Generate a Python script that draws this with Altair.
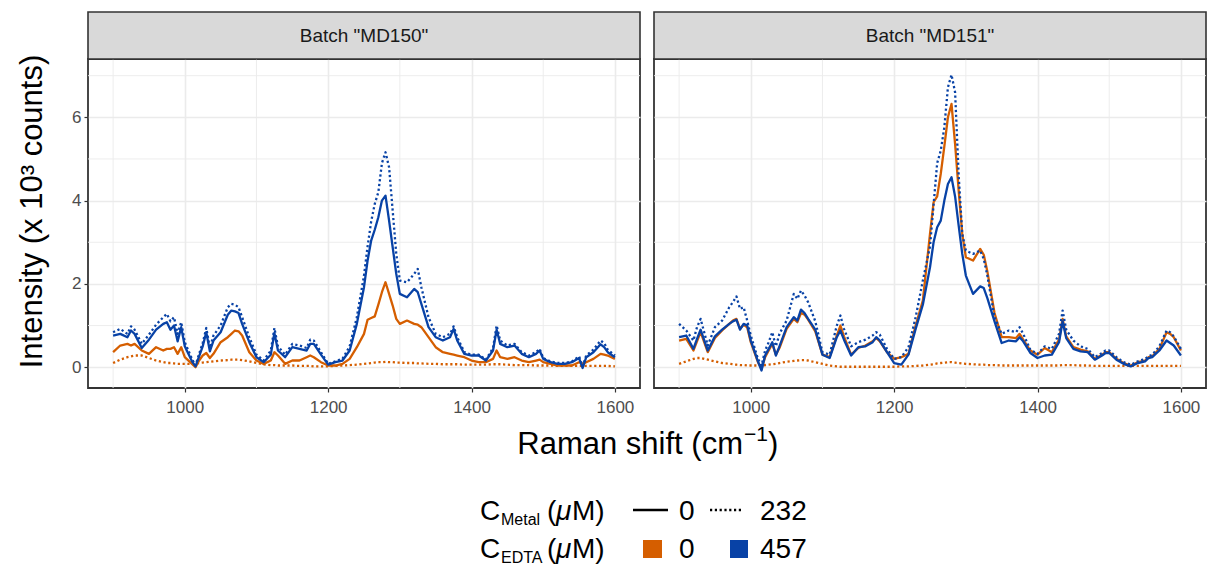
import altair as alt
import pandas as pd

# ---------------- data ----------------
shift = [900, 910, 920, 925, 930, 940, 950, 960, 970, 975,
         980, 985, 990, 995, 1000, 1010, 1015, 1020, 1025, 1030,
         1035, 1040, 1050, 1060, 1065, 1070, 1075, 1080, 1090, 1100,
         1110, 1120, 1125, 1130, 1140, 1150, 1160, 1170, 1175, 1180,
         1190, 1200, 1210, 1220, 1230, 1240, 1250, 1255, 1260, 1265,
         1270, 1275, 1280, 1285, 1290, 1295, 1300, 1310, 1320, 1325,
         1330, 1340, 1350, 1360, 1370, 1375, 1380, 1390, 1400, 1410,
         1420, 1430, 1435, 1440, 1450, 1460, 1470, 1480, 1490, 1495,
         1500, 1510, 1520, 1530, 1540, 1550, 1555, 1560, 1570, 1580,
         1585, 1590, 1600]

# Batch MD150
md150_edta0_metal0 = [
    0.36, 0.52, 0.56, 0.52, 0.56, 0.40, 0.32, 0.48, 0.40, 0.44,
    0.44, 0.48, 0.32, 0.48, 0.24, 0.08, 0.00, 0.16, 0.28, 0.34,
    0.22, 0.32, 0.60, 0.72, 0.80, 0.88, 0.86, 0.76, 0.36, 0.16,
    0.08, 0.16, 0.36, 0.28, 0.08, 0.16, 0.16, 0.24, 0.28, 0.24,
    0.12, 0.04, 0.04, 0.08, 0.20, 0.48, 0.80, 1.14, 1.18, 1.22,
    1.50, 1.80, 2.04, 1.76, 1.48, 1.16, 1.04, 1.12, 1.04, 1.02,
    0.96, 0.72, 0.48, 0.36, 0.32, 0.30, 0.28, 0.24, 0.16, 0.12,
    0.12, 0.20, 0.40, 0.24, 0.20, 0.24, 0.16, 0.12, 0.16, 0.18,
    0.12, 0.08, 0.04, 0.04, 0.04, 0.12, 0.08, 0.12, 0.20, 0.32,
    0.30, 0.28, 0.20]
md150_edta0_metal232 = [
    0.10, 0.18, 0.24, 0.26, 0.28, 0.28, 0.22, 0.16, 0.12, 0.10,
    0.10, 0.09, 0.08, 0.08, 0.08, 0.08, 0.09, 0.10, 0.11, 0.12,
    0.13, 0.14, 0.16, 0.17, 0.18, 0.18, 0.18, 0.17, 0.14, 0.10,
    0.07, 0.05, 0.05, 0.04, 0.04, 0.04, 0.03, 0.03, 0.03, 0.02,
    0.02, 0.02, 0.03, 0.04, 0.05, 0.06, 0.08, 0.09, 0.10, 0.11,
    0.12, 0.12, 0.13, 0.12, 0.12, 0.11, 0.11, 0.10, 0.10, 0.09,
    0.09, 0.08, 0.08, 0.07, 0.07, 0.07, 0.07, 0.06, 0.06, 0.06,
    0.06, 0.07, 0.07, 0.07, 0.06, 0.05, 0.05, 0.05, 0.04, 0.04,
    0.04, 0.04, 0.03, 0.03, 0.03, 0.03, 0.03, 0.03, 0.03, 0.03,
    0.03, 0.03, 0.02]
md150_edta457_metal0 = [
    0.76, 0.80, 0.72, 0.88, 0.80, 0.46, 0.66, 0.90, 1.04, 1.08,
    0.90, 1.00, 0.62, 0.96, 0.50, 0.14, 0.02, 0.26, 0.50, 0.84,
    0.38, 0.64, 0.84, 1.26, 1.36, 1.34, 1.30, 1.04, 0.60, 0.24,
    0.12, 0.30, 0.82, 0.40, 0.24, 0.48, 0.44, 0.40, 0.56, 0.56,
    0.30, 0.06, 0.12, 0.16, 0.40, 1.04, 1.92, 2.56, 3.04, 3.30,
    3.60, 4.00, 4.12, 3.52, 2.88, 2.24, 1.76, 1.68, 1.88, 1.80,
    1.52, 0.96, 0.72, 0.64, 0.72, 0.92, 0.64, 0.32, 0.28, 0.28,
    0.16, 0.40, 0.90, 0.56, 0.48, 0.52, 0.32, 0.24, 0.32, 0.40,
    0.20, 0.12, 0.08, 0.08, 0.12, 0.22, -0.02, 0.24, 0.36, 0.55,
    0.48, 0.36, 0.24]
md150_edta457_metal232 = [
    0.84, 0.92, 0.80, 0.98, 0.90, 0.56, 0.78, 1.02, 1.20, 1.28,
    1.10, 1.20, 0.80, 1.08, 0.60, 0.20, 0.04, 0.32, 0.58, 0.94,
    0.46, 0.76, 1.00, 1.44, 1.52, 1.50, 1.44, 1.20, 0.72, 0.30,
    0.16, 0.40, 0.94, 0.50, 0.30, 0.56, 0.52, 0.46, 0.66, 0.64,
    0.36, 0.08, 0.14, 0.20, 0.50, 1.20, 2.20, 2.90, 3.50, 3.92,
    4.20, 4.90, 5.16, 4.80, 3.76, 2.72, 2.08, 2.04, 2.24, 2.36,
    1.92, 1.20, 0.80, 0.72, 0.80, 0.98, 0.72, 0.36, 0.30, 0.30,
    0.18, 0.46, 1.00, 0.64, 0.52, 0.56, 0.36, 0.28, 0.36, 0.44,
    0.22, 0.14, 0.10, 0.10, 0.14, 0.26, 0.02, 0.28, 0.42, 0.64,
    0.58, 0.42, 0.28]

# Batch MD151
md151_edta0_metal0 = [
    0.64, 0.68, 0.40, 0.62, 0.84, 0.36, 0.70, 0.88, 1.04, 1.12,
    1.16, 0.92, 1.02, 0.96, 0.60, 0.12, -0.04, 0.24, 0.40, 0.56,
    0.30, 0.46, 0.92, 1.16, 1.08, 1.30, 1.26, 1.14, 0.86, 0.30,
    0.24, 0.76, 1.00, 0.74, 0.30, 0.46, 0.52, 0.62, 0.70, 0.62,
    0.36, 0.20, 0.24, 0.32, 1.00, 1.60, 3.20, 3.96, 4.10, 4.64,
    5.30, 6.00, 6.32, 5.36, 4.24, 3.20, 2.64, 2.56, 2.84, 2.70,
    2.30, 1.30, 0.72, 0.72, 0.70, 0.80, 0.66, 0.40, 0.30, 0.46,
    0.36, 0.66, 1.16, 0.74, 0.48, 0.42, 0.38, 0.20, 0.30, 0.36,
    0.36, 0.20, 0.10, 0.04, 0.12, 0.16, 0.24, 0.26, 0.44, 0.84,
    0.80, 0.72, 0.40]
md151_edta0_metal232 = [
    0.08, 0.14, 0.20, 0.22, 0.22, 0.18, 0.14, 0.10, 0.08, 0.07,
    0.06, 0.05, 0.05, 0.04, 0.04, 0.04, 0.04, 0.05, 0.06, 0.07,
    0.08, 0.10, 0.13, 0.15, 0.16, 0.17, 0.17, 0.16, 0.12, 0.08,
    0.04, 0.02, 0.01, 0.01, 0.01, 0.01, 0.01, 0.01, 0.01, 0.01,
    0.01, 0.01, 0.02, 0.02, 0.03, 0.04, 0.06, 0.07, 0.09, 0.10,
    0.11, 0.12, 0.12, 0.11, 0.10, 0.09, 0.08, 0.07, 0.06, 0.06,
    0.05, 0.05, 0.04, 0.04, 0.04, 0.04, 0.04, 0.04, 0.04, 0.04,
    0.04, 0.04, 0.05, 0.05, 0.05, 0.04, 0.04, 0.03, 0.03, 0.03,
    0.03, 0.03, 0.03, 0.03, 0.03, 0.03, 0.03, 0.03, 0.03, 0.03,
    0.03, 0.03, 0.03]
md151_edta457_metal0 = [
    0.72, 0.76, 0.44, 0.68, 0.90, 0.40, 0.74, 0.90, 1.04, 1.10,
    1.14, 0.90, 1.04, 1.00, 0.64, 0.14, -0.08, 0.28, 0.44, 0.60,
    0.28, 0.50, 0.96, 1.20, 1.12, 1.38, 1.30, 1.16, 0.90, 0.30,
    0.22, 0.72, 0.88, 0.66, 0.28, 0.48, 0.50, 0.60, 0.72, 0.64,
    0.36, 0.10, 0.06, 0.30, 0.92, 1.50, 2.40, 3.00, 3.36, 3.52,
    4.00, 4.40, 4.56, 4.10, 3.40, 2.72, 2.20, 1.76, 1.94, 1.90,
    1.66, 1.10, 0.58, 0.64, 0.62, 0.72, 0.62, 0.34, 0.22, 0.28,
    0.30, 0.60, 1.10, 0.70, 0.44, 0.38, 0.36, 0.18, 0.28, 0.34,
    0.34, 0.18, 0.08, 0.02, 0.10, 0.14, 0.22, 0.24, 0.40, 0.64,
    0.58, 0.52, 0.28]
md151_edta457_metal232 = [
    1.04, 0.88, 0.64, 0.96, 1.16, 0.52, 0.96, 1.12, 1.44, 1.56,
    1.70, 1.40, 1.44, 1.12, 0.76, 0.20, 0.04, 0.40, 0.60, 0.84,
    0.50, 0.80, 1.12, 1.76, 1.64, 1.84, 1.72, 1.56, 1.10, 0.36,
    0.30, 1.00, 1.24, 0.92, 0.50, 0.60, 0.66, 0.76, 0.84, 0.78,
    0.44, 0.20, 0.24, 0.48, 1.20, 2.08, 2.90, 3.90, 4.90, 5.20,
    5.76, 6.72, 7.02, 6.60, 4.60, 3.20, 2.80, 2.72, 2.80, 2.60,
    2.20, 1.20, 0.80, 0.88, 0.84, 0.96, 0.80, 0.42, 0.32, 0.50,
    0.44, 0.80, 1.36, 0.90, 0.64, 0.50, 0.44, 0.24, 0.34, 0.40,
    0.40, 0.24, 0.12, 0.06, 0.14, 0.20, 0.26, 0.30, 0.50, 0.88,
    0.84, 0.74, 0.44]

batches = ['Batch "MD150"', 'Batch "MD151"']
metal_levels = ["0", "232"]      # µM, line type
edta_levels = ["0", "457"]       # µM, colour
x_ticks = [1000, 1200, 1400, 1600]
x_minor = [900, 1100, 1300, 1500]
y_ticks = [0, 2, 4, 6]
y_minor = [1, 3, 5, 7]

series = {
    (batches[0], "0", "0"): md150_edta0_metal0,
    (batches[0], "0", "232"): md150_edta0_metal232,
    (batches[0], "457", "0"): md150_edta457_metal0,
    (batches[0], "457", "232"): md150_edta457_metal232,
    (batches[1], "0", "0"): md151_edta0_metal0,
    (batches[1], "0", "232"): md151_edta0_metal232,
    (batches[1], "457", "0"): md151_edta457_metal0,
    (batches[1], "457", "232"): md151_edta457_metal232,
}
rows = []
for (b, e, m), vals in series.items():
    for x, v in zip(shift, vals):
        rows.append({"batch": b, "edta": e, "metal": m, "shift": x, "intensity": v})
df = pd.DataFrame(rows)

# ---------------- style ----------------
FONT = "Liberation Sans"
ORANGE = "#D55E00"
BLUE = "#0842A6"
COLORS = {"0": ORANGE, "457": BLUE}
DASH = {"0": None, "232": [2.2, 2.6]}
W, H, STRIP = 552, 329, 47
LW = 2.3
TITLE_FS = 31
LEG_FS = 28
TICK_FS = 17

x_scale = alt.Scale(domain=[865, 1635], nice=False, zero=False)
y_scale = alt.Scale(domain=[-0.5, 7.4], nice=False, zero=False)
one = pd.DataFrame({"k": [0]})


def x_axis():
    return alt.Axis(values=x_ticks, format="d", title=None, grid=True, gridColor="#EBEBEB",
                    gridWidth=1.6, domain=False, ticks=True, tickSize=4,
                    tickColor="#333333", tickWidth=1.2, labelColor="#4D4D4D",
                    labelFontSize=TICK_FS, labelFont=FONT, labelPadding=7,
                    labelFlush=False)


def y_axis(show):
    if show:
        return alt.Axis(values=y_ticks, grid=True, gridColor="#EBEBEB", gridWidth=1.6,
                        domain=False, ticks=True, tickSize=4, tickColor="#333333",
                        tickWidth=1.2, labelColor="#4D4D4D", labelFontSize=TICK_FS,
                        labelFont=FONT, labelPadding=3,
                        title="Intensity (x 10³ counts)", titleFont=FONT,
                        titleFontSize=TITLE_FS, titleFontWeight="normal", titleColor="black",
                        titlePadding=23, titleY=152)
    return alt.Axis(values=y_ticks, grid=True, gridColor="#EBEBEB", gridWidth=1.6,
                    domain=False, ticks=False, labels=False, title=None)


def txt(s, x, y, size, align="left", style="normal"):
    return alt.Chart(one).mark_text(
        text=s, font=FONT, fontSize=size, align=align, baseline="alphabetic",
        color="black", fontStyle=style
    ).encode(x=alt.value(x), y=alt.value(y))


def panel(idx):
    b = batches[idx]
    show = idx == 0
    layers = []
    layers.append(
        alt.Chart(pd.DataFrame({"v": x_minor})).mark_rule(color="#EBEBEB", strokeWidth=0.9)
        .encode(x=alt.X("v:Q", scale=x_scale, axis=x_axis()))
    )
    layers.append(
        alt.Chart(pd.DataFrame({"v": y_minor})).mark_rule(color="#EBEBEB", strokeWidth=0.9)
        .encode(y=alt.Y("v:Q", scale=y_scale, axis=y_axis(show)))
    )
    for e, m in [("0", "232"), ("0", "0"), ("457", "232"), ("457", "0")]:
        kw = dict(color=COLORS[e], strokeWidth=LW, strokeCap="butt", strokeJoin="round")
        if DASH[m]:
            kw["strokeDash"] = DASH[m]
        layers.append(
            alt.Chart(df).transform_filter(
                (alt.datum.batch == b) & (alt.datum.edta == e) & (alt.datum.metal == m)
            ).mark_line(**kw).encode(
                x=alt.X("shift:Q", scale=x_scale, axis=x_axis()),
                y=alt.Y("intensity:Q", scale=y_scale, axis=y_axis(show)),
                order="shift:Q",
            )
        )
    # strip
    layers.append(
        alt.Chart(one).mark_rect(fill="#D9D9D9", stroke="#333333", strokeWidth=1.6)
        .encode(x=alt.value(0), x2=alt.value(W), y=alt.value(-STRIP), y2=alt.value(0))
    )
    layers.append(
        alt.Chart(pd.DataFrame({"label": [b]})).mark_text(
            font=FONT, fontSize=19, color="#1A1A1A", baseline="middle", align="center"
        ).encode(text="label:N", x=alt.value(W / 2), y=alt.value(-STRIP / 2))
    )
    if show:
        # x axis title, centred under both panels
        layers += [
            txt("Raman shift (cm", 655, 395, TITLE_FS, align="right"),
            txt("−1", 656, 382, 21),
            txt(")", 680, 395, TITLE_FS),
        ]
        # legend row 1: metal (line type)
        layers += [
            txt("C", 392, 461, LEG_FS), txt("Metal", 413, 466, 16),
            txt("(", 459, 461, LEG_FS), txt("μ", 468, 461, LEG_FS, style="italic"),
            txt("M)", 484, 461, LEG_FS),
            alt.Chart(one).mark_rule(color="black", strokeWidth=LW).encode(
                x=alt.value(545), x2=alt.value(580), y=alt.value(451)),
            txt(metal_levels[0], 591, 461, LEG_FS),
            alt.Chart(one).mark_rule(color="black", strokeWidth=LW, strokeDash=DASH["232"]).encode(
                x=alt.value(622), x2=alt.value(655), y=alt.value(451)),
            txt(metal_levels[1], 672, 461, LEG_FS),
        ]
        # legend row 2: EDTA (colour)
        layers += [
            txt("C", 392, 499, LEG_FS), txt("EDTA", 413, 504, 16),
            txt("(", 459, 499, LEG_FS), txt("μ", 468, 499, LEG_FS, style="italic"),
            txt("M)", 484, 499, LEG_FS),
            alt.Chart(one).mark_rect(fill=ORANGE).encode(
                x=alt.value(555), x2=alt.value(574), y=alt.value(481), y2=alt.value(499)),
            txt(edta_levels[0], 591, 499, LEG_FS),
            alt.Chart(one).mark_rect(fill=BLUE).encode(
                x=alt.value(642), x2=alt.value(660), y=alt.value(481), y2=alt.value(499)),
            txt(edta_levels[1], 672, 499, LEG_FS),
        ]
    return alt.layer(*layers).properties(
        width=W, height=H,
        view=alt.ViewBackground(fill="white", stroke="#333333", strokeWidth=1.8),
    )


chart = alt.hconcat(panel(0), panel(1), spacing=14, bounds="flush").properties(
    padding={"left": 15, "top": 10, "right": 0, "bottom": 0},
    background="white",
).configure_view(stroke=None)

chart.save("out.html", embed_options={"renderer": "svg", "actions": False})
